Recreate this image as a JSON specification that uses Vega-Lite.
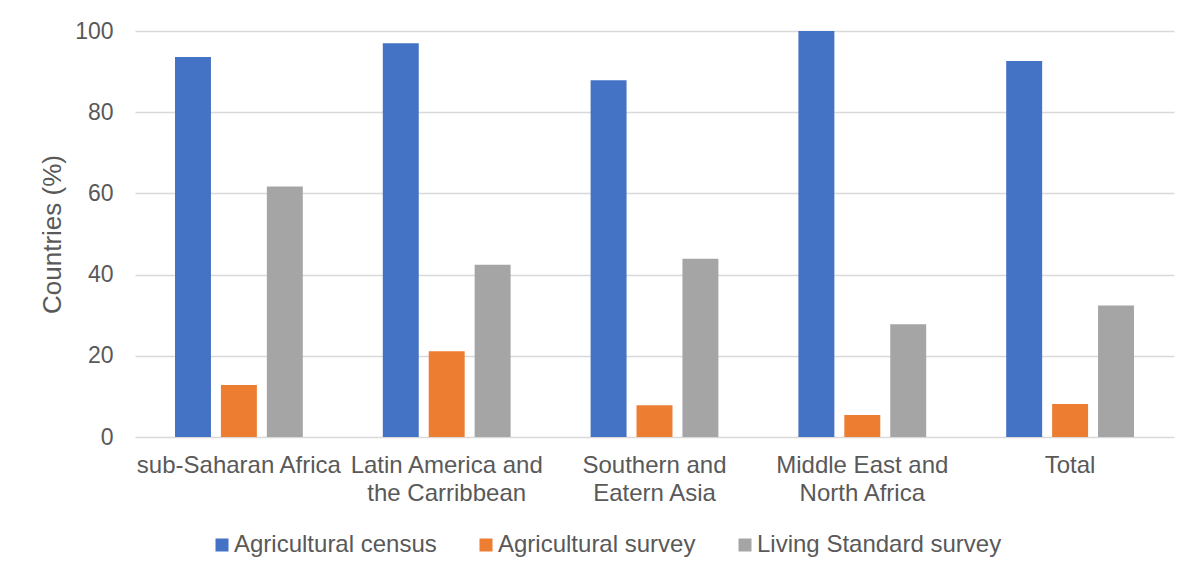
{
  "$schema": "https://vega.github.io/schema/vega-lite/v6.json",
  "width": 1039,
  "height": 406,
  "autosize": {"type": "none"},
  "padding": {"left": 135, "top": 31, "right": 29, "bottom": 144},
  "background": "white",
  "config": {
    "font": "Liberation Sans",
    "view": {"stroke": null}
  },
  "data": {
    "values": [
      {"region": "sub-Saharan Africa", "series": "Agricultural census", "value": 93.6},
      {"region": "sub-Saharan Africa", "series": "Agricultural survey", "value": 12.8},
      {"region": "sub-Saharan Africa", "series": "Living Standard survey", "value": 61.7},
      {"region": "Latin America and the Carribbean", "series": "Agricultural census", "value": 97.0},
      {"region": "Latin America and the Carribbean", "series": "Agricultural survey", "value": 21.1},
      {"region": "Latin America and the Carribbean", "series": "Living Standard survey", "value": 42.4},
      {"region": "Southern and Eatern Asia", "series": "Agricultural census", "value": 87.9},
      {"region": "Southern and Eatern Asia", "series": "Agricultural survey", "value": 7.8},
      {"region": "Southern and Eatern Asia", "series": "Living Standard survey", "value": 43.9},
      {"region": "Middle East and North Africa", "series": "Agricultural census", "value": 100},
      {"region": "Middle East and North Africa", "series": "Agricultural survey", "value": 5.4},
      {"region": "Middle East and North Africa", "series": "Living Standard survey", "value": 27.8},
      {"region": "Total", "series": "Agricultural census", "value": 92.6},
      {"region": "Total", "series": "Agricultural survey", "value": 8.1},
      {"region": "Total", "series": "Living Standard survey", "value": 32.4}
    ]
  },
  "mark": {"type": "bar"},
  "encoding": {
    "x": {
      "field": "region",
      "type": "nominal",
      "sort": null,
      "scale": {"paddingInner": 0.385, "paddingOuter": 0.1925},
      "axis": {
        "title": null,
        "labelAngle": 0,
        "labelFontSize": 24,
        "labelColor": "#595959",
        "labelPadding": 16,
        "labelLineHeight": 28,
        "labelLimit": 400,
        "ticks": false,
        "domain": false,
        "labelExpr": "split(replace(datum.label, ' and ', ' and|'), '|')"
      }
    },
    "xOffset": {
      "field": "series",
      "type": "nominal",
      "sort": ["Agricultural census", "Agricultural survey", "Living Standard survey"],
      "scale": {"paddingInner": 0.217, "paddingOuter": 0}
    },
    "y": {
      "field": "value",
      "type": "quantitative",
      "scale": {"domain": [0, 100], "nice": false},
      "axis": {
        "title": "Countries (%)",
        "values": [0, 20, 40, 60, 80, 100],
        "domain": false,
        "ticks": false,
        "labelFontSize": 23,
        "labelColor": "#595959",
        "labelPadding": 22,
        "gridColor": "#D9D9D9",
        "gridWidth": 1.5,
        "titleFontSize": 26,
        "titleFontWeight": "normal",
        "titleColor": "#595959",
        "titlePadding": 9
      }
    },
    "color": {
      "field": "series",
      "type": "nominal",
      "sort": ["Agricultural census", "Agricultural survey", "Living Standard survey"],
      "scale": {
        "domain": ["Agricultural census", "Agricultural survey", "Living Standard survey"],
        "range": ["#4472C4", "#ED7D31", "#A5A5A5"]
      },
      "legend": {
        "title": null,
        "orient": "none",
        "legendX": 75,
        "legendY": 502,
        "direction": "horizontal",
        "symbolType": "square",
        "symbolSize": 169,
        "symbolStrokeWidth": 0,
        "labelFontSize": 24,
        "labelColor": "#595959",
        "labelOffset": 0,
        "labelLimit": 400,
        "columnPadding": 37
      }
    }
  }
}
